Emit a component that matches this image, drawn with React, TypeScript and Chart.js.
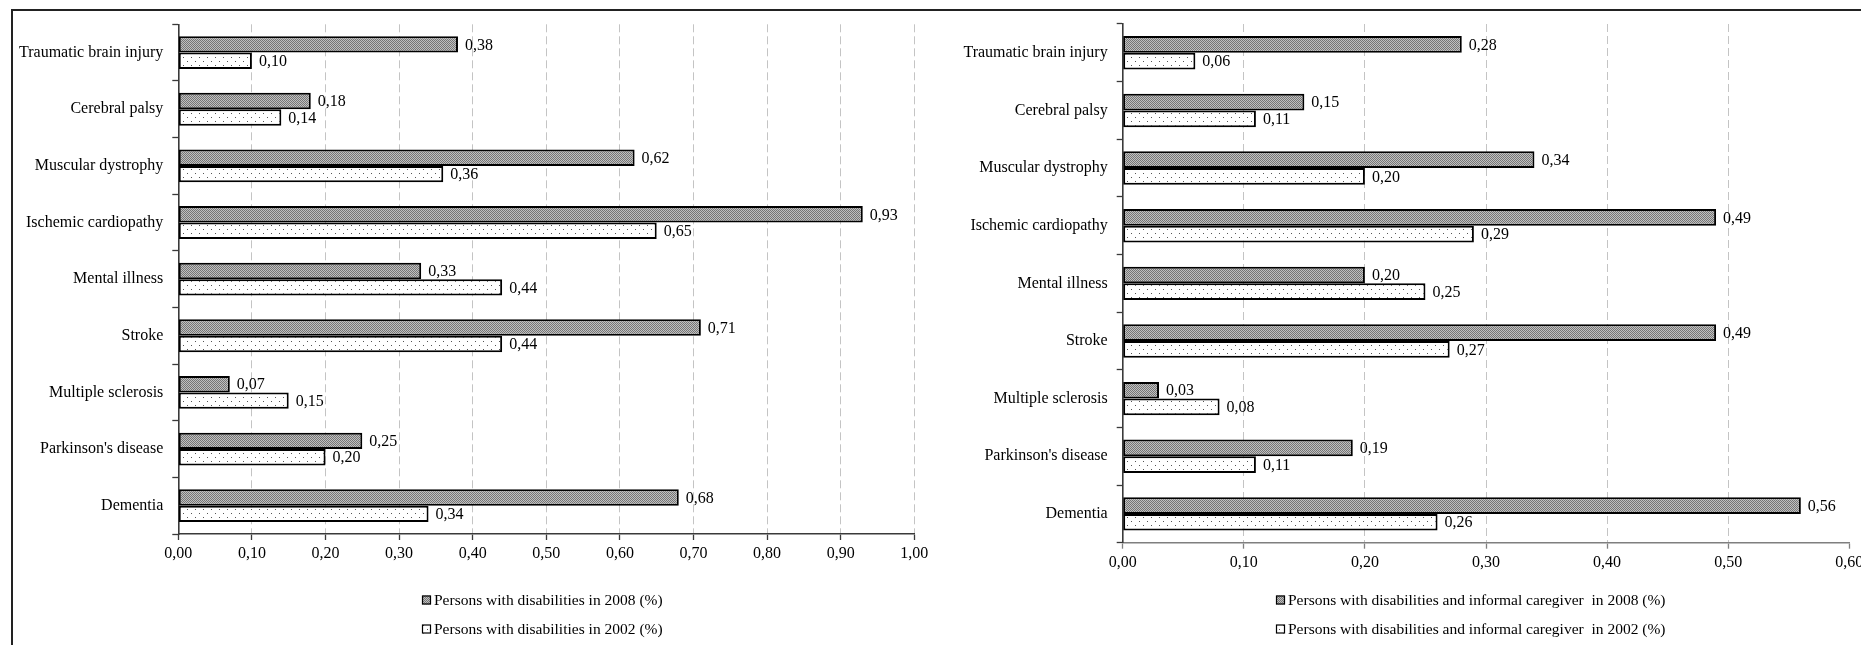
import React, { useEffect, useRef } from 'react';
import { Chart, registerables } from 'chart.js';

Chart.register(...registerables);

// ---------------- data ----------------
const categories = [
  'Traumatic brain injury',
  'Cerebral palsy',
  'Muscular dystrophy',
  'Ischemic cardiopathy',
  'Mental illness',
  'Stroke',
  'Multiple sclerosis',
  "Parkinson's disease",
  'Dementia',
];
const disabilities2008 = [0.38, 0.18, 0.62, 0.93, 0.33, 0.71, 0.07, 0.25, 0.68];
const disabilities2002 = [0.10, 0.14, 0.36, 0.65, 0.44, 0.44, 0.15, 0.20, 0.34];
const caregiver2008 = [0.28, 0.15, 0.34, 0.49, 0.20, 0.49, 0.03, 0.19, 0.56];
const caregiver2002 = [0.06, 0.11, 0.20, 0.29, 0.25, 0.27, 0.08, 0.11, 0.26];
const leftLegendLabels = ['Persons with disabilities in 2008 (%)', 'Persons with disabilities in 2002 (%)'];
const rightLegendLabels = [
  'Persons with disabilities and informal caregiver  in 2008 (%)',
  'Persons with disabilities and informal caregiver  in 2002 (%)',
];
const leftAxisMax = 1.0;
const rightAxisMax = 0.6;
const axisStep = 0.1;

const FONT = "'Liberation Serif', 'Times New Roman', serif";

const fmt = (v: number) => Number(v).toFixed(2).replace('.', ',');

function densePattern(ctx: CanvasRenderingContext2D) {
  const c = document.createElement('canvas');
  c.width = 4;
  c.height = 4;
  const g = c.getContext('2d')!;
  g.fillStyle = '#c0c0c0';
  g.fillRect(0, 0, 4, 4);
  g.fillStyle = '#767676';
  for (let y = 0; y < 4; y++) for (let x = 0; x < 4; x++) if ((x + y) % 2 === 0) g.fillRect(x, y, 1, 1);
  return ctx.createPattern(c, 'repeat')!;
}

function dotPattern(ctx: CanvasRenderingContext2D) {
  const c = document.createElement('canvas');
  c.width = 8;
  c.height = 8;
  const g = c.getContext('2d')!;
  g.fillStyle = '#ffffff';
  g.fillRect(0, 0, 8, 8);
  g.fillStyle = '#555555';
  g.fillRect(1, 1, 1, 1);
  g.fillRect(5, 5, 1, 1);
  return ctx.createPattern(c, 'repeat')!;
}

interface PanelSpec {
  a: number[];
  b: number[];
  legend: string[];
  max: number;
  gridAtMax: boolean;
  yAxisColor: string;
  xAxisColor: string;
  pad: { left: number; right: number; top: number; bottom: number };
  yWidth: number;
  xHeight: number;
  legendX: number;
  legendRows: number[];
}

function buildChart(canvas: HTMLCanvasElement, spec: PanelSpec) {
  const ctx = canvas.getContext('2d')!;
  const fillA = densePattern(ctx);
  const fillB = dotPattern(ctx);
  const fills = [fillA, fillB];

  const valueLabels = {
    id: 'valueLabels',
    afterDatasetsDraw(chart: any) {
      const c = chart.ctx;
      c.save();
      c.font = `16px ${FONT}`;
      c.fillStyle = '#000';
      c.textAlign = 'left';
      c.textBaseline = 'middle';
      chart.data.datasets.forEach((ds: any, di: number) => {
        const meta = chart.getDatasetMeta(di);
        meta.data.forEach((el: any, i: number) => {
          c.fillText(fmt(ds.data[i]), el.x + 7, el.y + 1);
        });
      });
      c.restore();
    },
  };

  const stackLegend = {
    id: 'stackLegend',
    afterDraw(chart: any) {
      const c = chart.ctx;
      c.save();
      c.font = `15.5px ${FONT}`;
      const box = 9;
      const gap = 3;
      const x0 = spec.legendX;
      spec.legend.forEach((t, i) => {
        const y = spec.legendRows[i];
        c.fillStyle = fills[i];
        c.fillRect(x0, y - box / 2, box, box);
        c.strokeStyle = '#000';
        c.lineWidth = 1.2;
        c.strokeRect(x0 + 0.5, y - box / 2 + 0.5, box - 1, box - 1);
        c.fillStyle = '#000';
        c.textAlign = 'left';
        c.textBaseline = 'middle';
        c.fillText(t, x0 + box + gap, y + 1);
      });
      c.restore();
    },
  };

  const nTicks = Math.round(spec.max / axisStep);

  return new Chart(canvas, {
    type: 'bar',
    data: {
      labels: categories,
      datasets: [
        {
          label: spec.legend[0],
          data: spec.a,
          backgroundColor: fillA as any,
          borderColor: '#000',
          borderWidth: 2,
          borderSkipped: false,
          categoryPercentage: 0.58,
          barPercentage: 1,
        },
        {
          label: spec.legend[1],
          data: spec.b,
          backgroundColor: fillB as any,
          borderColor: '#000',
          borderWidth: 2,
          borderSkipped: false,
          categoryPercentage: 0.58,
          barPercentage: 1,
        },
      ],
    },
    options: {
      indexAxis: 'y',
      responsive: false,
      maintainAspectRatio: false,
      animation: false,
      devicePixelRatio: 1,
      layout: { padding: spec.pad },
      plugins: {
        legend: { display: false },
        tooltip: { enabled: false },
        title: { display: false },
      },
      scales: {
        x: {
          type: 'linear',
          min: 0,
          max: spec.max,
          ticks: {
            stepSize: axisStep,
            callback: (v: any) => fmt(v),
            font: { family: FONT, size: 16 },
            color: '#000',
            padding: 4,
            maxRotation: 0,
            autoSkip: false,
          },
          grid: {
            color: (c: any) => {
              if (c.index === 0) return 'rgba(0,0,0,0)';
              if (!spec.gridAtMax && c.index === nTicks) return 'rgba(0,0,0,0)';
              return '#c4c4c4';
            },
            lineWidth: 1,
            drawTicks: true,
            tickLength: 6,
            tickColor: spec.xAxisColor,
            tickWidth: 1.3,
          },
          border: { color: spec.xAxisColor, width: 1.6, dash: [8, 4] },
          afterFit: (s: any) => {
            s.height = spec.xHeight;
          },
        },
        y: {
          type: 'category',
          ticks: {
            font: { family: FONT, size: 16 },
            color: '#000',
            padding: 9,
            autoSkip: false,
          },
          grid: {
            drawOnChartArea: false,
            drawTicks: true,
            tickLength: 6,
            tickColor: spec.yAxisColor,
            tickWidth: 1.3,
            offset: true,
          },
          border: { color: spec.yAxisColor, width: 1.6 },
          afterFit: (s: any) => {
            s.width = spec.yWidth;
          },
        },
      },
    } as any,
    plugins: [valueLabels, stackLegend],
  });
}

const LEFT_CANVAS = { left: 14, top: 0, width: 986, height: 645 };
const RIGHT_CANVAS = { left: 930, top: 0, width: 950, height: 645 };

export default function App() {
  const leftRef = useRef<HTMLCanvasElement>(null);
  const rightRef = useRef<HTMLCanvasElement>(null);

  useEffect(() => {
    const charts: Chart[] = [];
    if (leftRef.current) {
      charts.push(
        buildChart(leftRef.current, {
          a: disabilities2008,
          b: disabilities2002,
          legend: leftLegendLabels,
          max: leftAxisMax,
          gridAtMax: true,
          yAxisColor: '#3a3a3a',
          xAxisColor: '#3a3a3a',
          pad: { left: 0, right: 986 - (914.3 - 14), top: 24.3, bottom: 645 - 534 - 40 },
          yWidth: 178.3 - 14,
          xHeight: 40,
          legendX: 422 - 14,
          legendRows: [600, 629],
        })
      );
    }
    if (rightRef.current) {
      charts.push(
        buildChart(rightRef.current, {
          a: caregiver2008,
          b: caregiver2002,
          legend: rightLegendLabels,
          max: rightAxisMax,
          gridAtMax: false,
          yAxisColor: '#3a3a3a',
          xAxisColor: '#7f7f7f',
          pad: { left: 0, right: 950 - (1849.3 - 930), top: 24, bottom: 645 - 542.7 - 40 },
          yWidth: 1122.7 - 930,
          xHeight: 40,
          legendX: 1276 - 930,
          legendRows: [600, 629],
        })
      );
    }
    return () => charts.forEach((c) => c.destroy());
  }, []);

  return (
    <div
      style={{
        position: 'fixed',
        left: 0,
        top: 0,
        width: 1861,
        height: 645,
        overflow: 'hidden',
        background: '#ffffff',
      }}
    >
      <div style={{ position: 'absolute', left: 11, top: 9, width: 1860, height: 2, background: '#222' }} />
      <div style={{ position: 'absolute', left: 11, top: 9, width: 2, height: 640, background: '#222' }} />
      <canvas
        ref={leftRef}
        width={LEFT_CANVAS.width}
        height={LEFT_CANVAS.height}
        style={{ position: 'absolute', ...LEFT_CANVAS }}
      />
      <canvas
        ref={rightRef}
        width={RIGHT_CANVAS.width}
        height={RIGHT_CANVAS.height}
        style={{ position: 'absolute', ...RIGHT_CANVAS }}
      />
    </div>
  );
}
